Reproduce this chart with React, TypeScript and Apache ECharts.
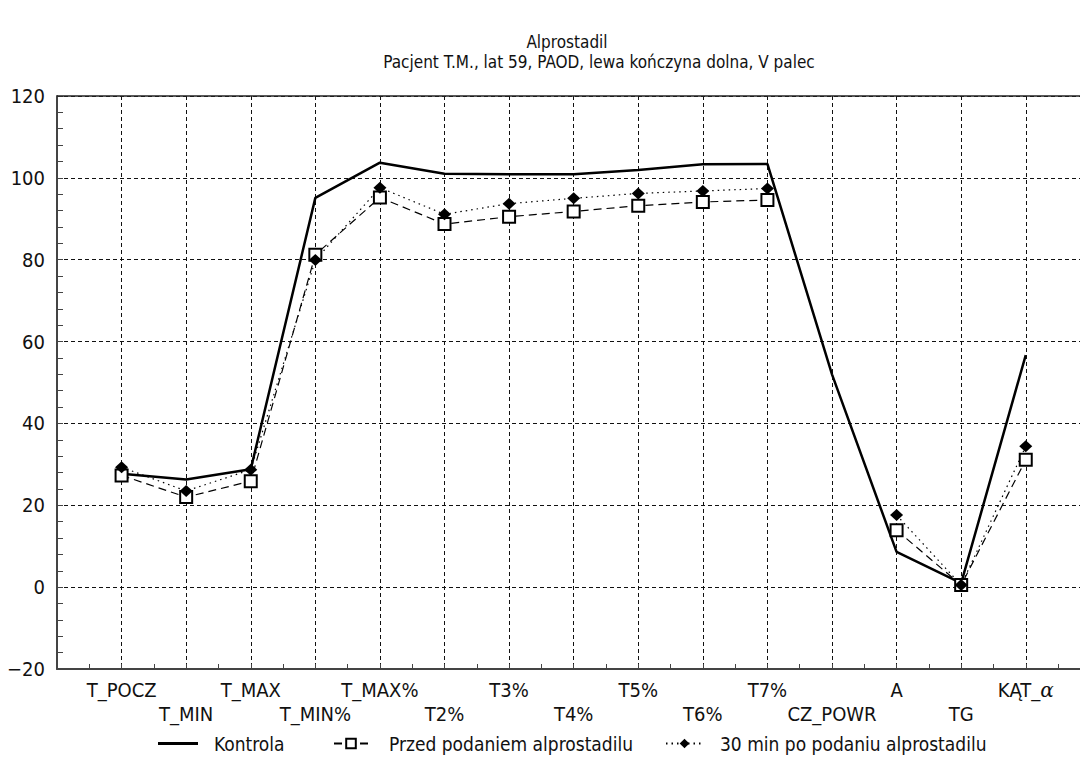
import React, { useEffect, useRef } from "react";
import * as echarts from "echarts";

const FONT = '"DejaVu Sans Condensed", "Liberation Sans Narrow", sans-serif';

const categories = ["T_POCZ", "T_MIN", "T_MAX", "T_MIN%", "T_MAX%", "T2%", "T3%", "T4%", "T5%", "T6%", "T7%", "CZ_POWR", "A", "TG", "KĄT_α"];
const kontrola = [27.7, 26.3, 28.8, 95.1, 103.7, 101.0, 100.9, 100.9, 101.9, 103.3, 103.4, 52.0, 8.6, 1.0, 56.7];
const przed = [27.3, 22.0, 25.9, 81.2, 95.2, 88.7, 90.5, 91.8, 93.2, 94.1, 94.6, null, 13.9, 0.5, 31.1];
const po30 = [29.3, 23.5, 28.7, 79.9, 97.6, 91.1, 93.7, 95.0, 96.2, 96.8, 97.4, null, 17.6, 0.5, 34.4];
const seriesNames = ["Kontrola", "Przed podaniem alprostadilu", "30 min po podaniu alprostadilu"];
const yTicks = { min: -20, max: 120, interval: 20 };

const toXY = (arr: (number | null)[]) => arr.map((v, i) => [i + 1, v]);

const legendBase = (left: number, itemWidth: number, gap: number, item: any) => ({
  bottom: 6,
  left,
  itemWidth,
  itemHeight: 12,
  textStyle: { fontFamily: FONT, fontSize: 19, color: "#111", padding: [0, 0, 0, gap - 5] },
  data: [item],
});

export default function App() {
  const ref = useRef<HTMLDivElement>(null);
  useEffect(() => {
    if (!ref.current) return;
    const chart = echarts.init(ref.current, null, { renderer: "svg" });
    chart.setOption({
      animation: false,
      backgroundColor: "#fff",
      textStyle: { fontFamily: FONT },
      graphic: [
        { type: "text", x: 567, y: 42, style: { text: "Alprostadil", font: `17px ${FONT}`, fill: "#111", textAlign: "center", textVerticalAlign: "middle" } },
        { type: "text", x: 599, y: 62, style: { text: "Pacjent T.M., lat 59, PAOD, lewa kończyna dolna, V palec", font: `17px ${FONT}`, fill: "#111", textAlign: "center", textVerticalAlign: "middle" } },
        { type: "line", shape: { x1: 57, y1: 96, x2: 1080, y2: 96 }, style: { stroke: "#222", lineWidth: 1.5 }, z: 10 },
      ],
      grid: { left: 57, top: 96, bottom: 95, right: 0, show: false },
      legend: [
        legendBase(153, 40, 16, { name: seriesNames[0], icon: "path://M0,0H40V3H0Z" }),
        legendBase(328, 34, 21, { name: seriesNames[1] }),
        legendBase(660, 37, 17, { name: seriesNames[2] }),
      ],
      xAxis: {
        type: "value",
        min: 0,
        max: 15.84,
        interval: 1,
        axisLine: { onZero: false, lineStyle: { color: "#444", width: 2 } },
        axisTick: { inside: true, length: 5, lineStyle: { color: "#444" } },
        minorTick: { show: true, splitNumber: 2, length: 5, lineStyle: { color: "#444" } },
        splitLine: { show: true, showMaxLine: false, lineStyle: { color: "#111", type: [4, 3], width: 1 } },
        axisLabel: {
          fontFamily: FONT,
          fontSize: 20,
          color: "#111",
          margin: 9,
          lineHeight: 24,
          showMaxLabel: false,
          formatter: (v: number) => {
            if (Math.abs(v - Math.round(v)) > 0.01) return "";
            const i = Math.round(v) - 1;
            if (i < 0 || i >= categories.length) return "";
            let name = categories[i];
            if (name === "KĄT_α") name = "KĄT_{it|α}";
            return i % 2 === 0 ? name : "\n" + name;
          },
          rich: { it: { fontStyle: "italic", fontFamily: "DejaVu Serif, serif", fontSize: 20, color: "#111" } },
        },
      },
      yAxis: {
        type: "value",
        min: yTicks.min,
        max: yTicks.max,
        interval: yTicks.interval,
        axisLine: { show: true, onZero: false, lineStyle: { color: "#444", width: 2 } },
        axisTick: { show: true, inside: true, length: 6, lineStyle: { color: "#444" } },
        minorTick: { show: true, splitNumber: 5, length: 6, lineStyle: { color: "#444" } },
        splitLine: { show: true, lineStyle: { color: "#111", type: [4, 3], width: 1 } },
        axisLabel: {
          fontFamily: FONT,
          fontSize: 20,
          color: "#111",
          margin: 12,
          formatter: (v: number) => String(v).replace("-", "\u2212"),
        },
      },
      series: [
        {
          name: seriesNames[0],
          type: "line",
          data: toXY(kontrola),
          showSymbol: false,
          symbol: "none",
          lineStyle: { color: "#000", width: 2.5 },
          itemStyle: { color: "#000" },
        },
        {
          name: seriesNames[1],
          type: "line",
          data: toXY(przed),
          symbol: "rect",
          symbolSize: 12,
          lineStyle: { color: "#000", width: 1.2, type: [8, 5] },
          itemStyle: { color: "#fff", borderColor: "#000", borderWidth: 2 },
        },
        {
          name: seriesNames[2],
          type: "line",
          data: toXY(po30),
          symbol: "diamond",
          symbolSize: [13, 12],
          lineStyle: { color: "#000", width: 1.2, type: [1.5, 4] },
          itemStyle: { color: "#000" },
        },
      ],
    });
    return () => chart.dispose();
  }, []);
  return <div ref={ref} style={{ position: "fixed", left: 0, top: 0, width: 1080, height: 764 }} />;
}
